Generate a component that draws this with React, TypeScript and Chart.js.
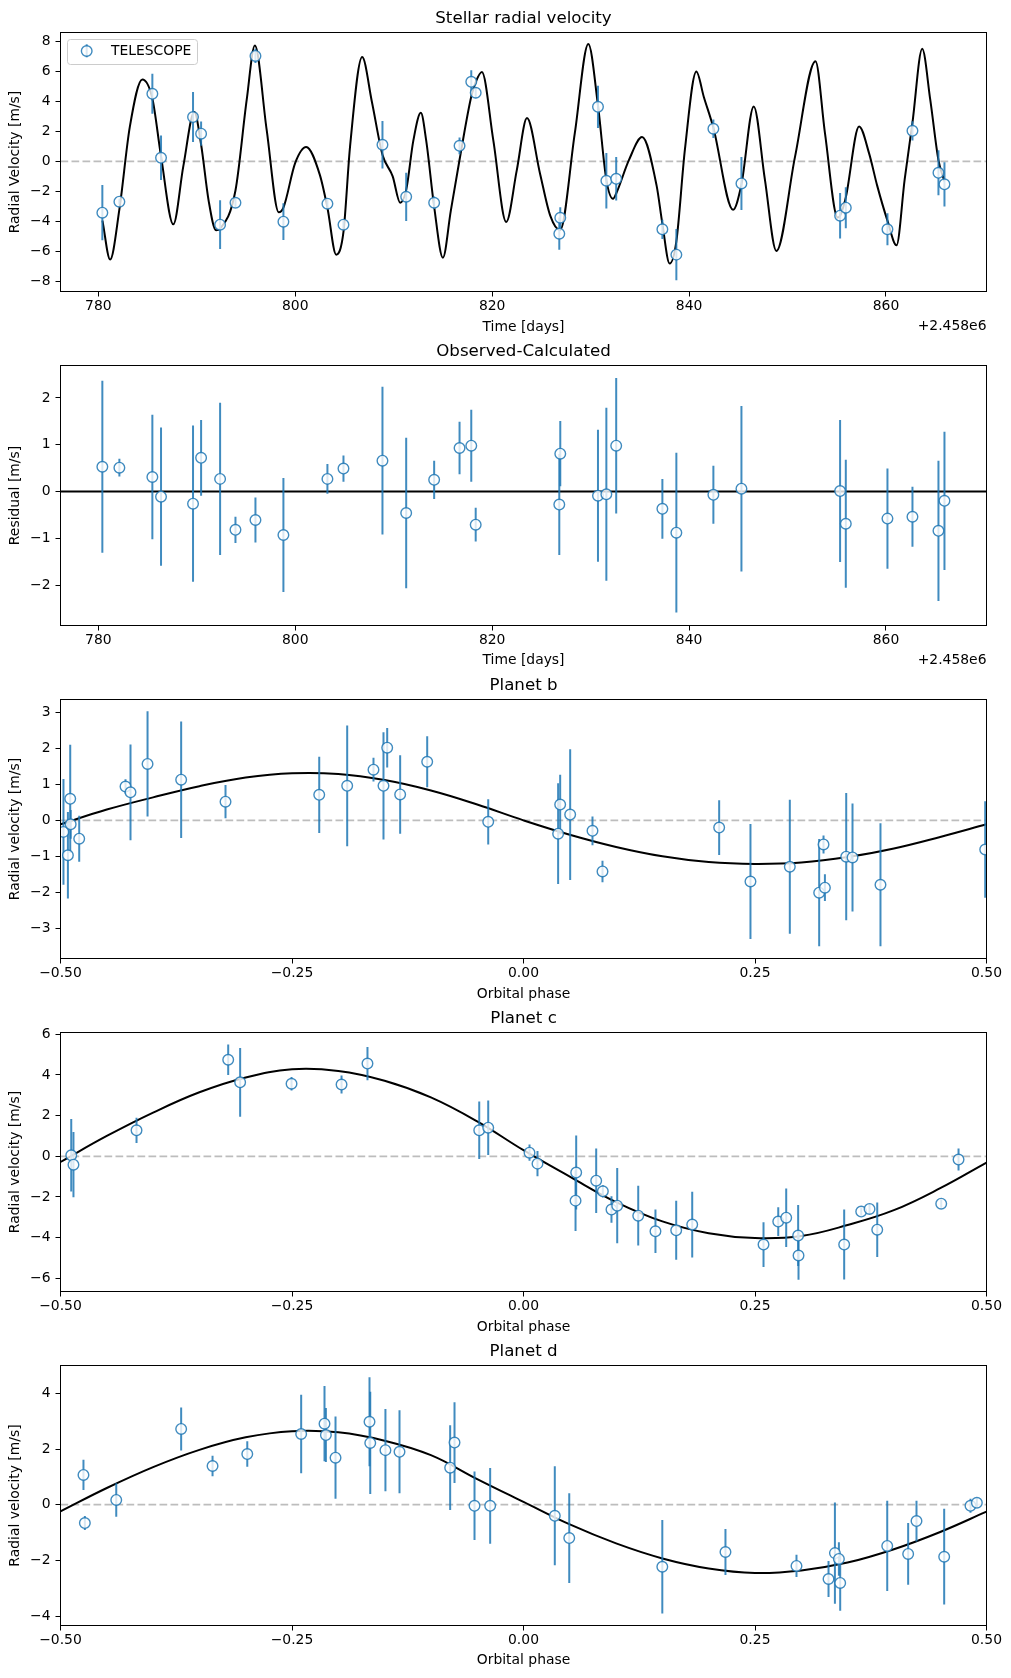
import React, { useEffect, useRef } from 'react';
import { Chart, registerables } from 'chart.js';

Chart.register(...registerables);

const FONT = "'DejaVu Sans', 'Liberation Sans', sans-serif";
Chart.defaults.font.family = FONT;
Chart.defaults.font.size = 13.9;
Chart.defaults.color = '#000000';

// ---------- data: stellar RV time series (days relative to 2458000) ----------
const TIME_OFFSET_LABEL = '+2.458e6';
const LEGEND_LABEL = 'TELESCOPE';
const TIME = [780.41, 782.14, 785.49, 786.37, 789.62, 790.44, 792.37, 793.93, 795.96, 798.80, 803.27, 804.90, 808.86, 811.27, 814.11, 816.69, 817.88, 818.33, 826.82, 826.92, 830.75, 831.60, 832.60, 837.29, 838.71, 842.47, 845.32, 855.34, 855.92, 860.15, 862.69, 865.33, 865.94];
const RV = [-3.42, -2.69, 4.51, 0.24, 2.96, 1.85, -4.22, -2.76, 7.04, -4.02, -2.82, -4.22, 1.11, -2.36, -2.76, 1.04, 5.31, 4.58, -4.82, -3.76, 3.64, -1.29, -1.16, -4.53, -6.22, 2.18, -1.47, -3.62, -3.09, -4.53, 2.04, -0.76, -1.53];
const RV_ERR = [1.84, 0.19, 1.33, 1.48, 1.67, 0.81, 1.63, 0.28, 0.48, 1.22, 0.32, 0.28, 1.58, 1.61, 0.41, 0.56, 0.77, 0.36, 1.08, 0.70, 1.41, 1.85, 1.45, 0.64, 1.71, 0.62, 1.77, 1.52, 1.37, 1.07, 0.64, 1.50, 1.48];
const RESIDUAL = [0.53, 0.51, 0.31, -0.11, -0.26, 0.72, 0.27, -0.82, -0.61, -0.93, 0.27, 0.49, 0.66, -0.46, 0.25, 0.93, 0.98, -0.71, -0.28, 0.81, -0.09, -0.06, 0.98, -0.37, -0.88, -0.07, 0.06, 0.01, -0.69, -0.58, -0.54, -0.84, -0.20];

// model curve
const MODEL_TIME = [780.42, 781.2, 782.14, 783.2, 784.47, 785.49, 786.37, 787.62, 788.64, 789.75, 790.44, 791.2, 791.96, 792.37, 793.93, 795.07, 795.9, 797.1, 798.33, 798.8, 800.0, 801.11, 802.5, 803.27, 804.16, 804.9, 805.57, 806.8, 807.78, 808.86, 809.9, 810.66, 811.27, 812.0, 812.76, 813.3, 814.11, 815.0, 815.8, 816.69, 817.88, 818.33, 818.96, 820.12, 821.43, 822.5, 823.54, 824.86, 825.9, 826.9, 828.4, 829.77, 830.75, 831.6, 832.28, 832.6, 833.9, 835.23, 836.7, 837.29, 838.03, 838.71, 839.58, 840.74, 841.5, 842.47, 844.47, 845.32, 846.57, 847.7, 848.87, 850.76, 852.84, 853.8, 855.1, 855.34, 855.92, 857.27, 858.3, 859.1, 860.15, 861.07, 861.9, 862.69, 863.68, 864.5, 865.33, 865.94];
const MODEL_RV = [-3.95, -6.55, -3.2, 2.3, 5.47, 4.2, 0.35, -4.2, -0.3, 3.3, 1.13, -2.6, -4.6, -4.49, -1.94, 4.1, 7.73, 2.1, -3.4, -3.09, -0.1, 0.96, -0.9, -3.09, -6.22, -4.71, 1.0, 6.96, 4.0, 0.45, -1.0, -2.76, -1.9, 1.4, 3.24, 1.4, -3.01, -6.42, -3.3, 0.11, 4.33, 5.29, 5.96, 1.4, -4.04, -0.6, 2.89, -0.8, -3.62, -4.58, 1.9, 7.84, 3.73, -1.23, -2.49, -2.14, 0.1, 1.62, -1.6, -4.16, -6.82, -5.34, 0.8, 6.0, 4.3, 2.25, -3.22, -1.53, 3.67, -1.2, -5.98, 0.3, 6.69, 1.9, -3.75, -3.63, -2.4, 2.33, 0.5, -1.6, -3.95, -5.6, -1.2, 2.58, 7.51, 4.1, 0.08, -1.33];

// ---------- phase-folded data ----------
const PHASE_B = [-0.4968, -0.4920, -0.4895, -0.4890, -0.4798, -0.4298, -0.4244, -0.4060, -0.3697, -0.3218, -0.2206, -0.1904, -0.1620, -0.1512, -0.1472, -0.1332, -0.1040, -0.0381, 0.0374, 0.0396, 0.0504, 0.0745, 0.0853, 0.2113, 0.2451, 0.2876, 0.3193, 0.3240, 0.3255, 0.3485, 0.3553, 0.3855, 0.4986];
const RV_B = [-0.32, -0.97, 0.60, -0.11, -0.51, 0.94, 0.78, 1.57, 1.13, 0.52, 0.71, 0.96, 1.41, 0.96, 2.02, 0.72, 1.63, -0.04, -0.37, 0.44, 0.16, -0.29, -1.42, -0.20, -1.70, -1.29, -2.01, -0.67, -1.87, -1.01, -1.03, -1.79, -0.81];
const ERR_B = [1.47, 1.20, 1.50, 0.40, 0.64, 0.20, 1.33, 1.46, 1.62, 0.46, 1.06, 1.68, 0.33, 1.49, 0.55, 1.09, 0.71, 0.63, 1.40, 0.83, 1.82, 0.40, 0.30, 0.76, 1.60, 1.86, 1.49, 0.25, 0.37, 1.77, 1.50, 1.71, 1.34];

const PHASE_C = [-0.4884, -0.4860, -0.4179, -0.3189, -0.3060, -0.2505, -0.1965, -0.1685, -0.0478, -0.0381, 0.0065, 0.0151, 0.0562, 0.0569, 0.0785, 0.0857, 0.0950, 0.1012, 0.1239, 0.1425, 0.1649, 0.1822, 0.2592, 0.2751, 0.2837, 0.2966, 0.2970, 0.3463, 0.3647, 0.3737, 0.3820, 0.4511, 0.4698];
const RV_C = [0.05, -0.41, 1.28, 4.75, 3.64, 3.57, 3.53, 4.56, 1.28, 1.41, 0.18, -0.36, -2.18, -0.80, -1.20, -1.72, -2.62, -2.43, -2.92, -3.69, -3.64, -3.36, -4.34, -3.21, -3.02, -3.90, -4.88, -4.34, -2.72, -2.59, -3.61, -2.33, -0.16];
const ERR_C = [1.78, 1.60, 0.62, 0.75, 1.69, 0.33, 0.44, 0.82, 1.41, 1.34, 0.40, 0.62, 1.49, 1.82, 1.59, 0.30, 0.65, 1.85, 1.47, 1.07, 1.45, 1.62, 1.10, 0.71, 1.44, 1.50, 1.19, 1.72, 0.20, 0.25, 1.34, 0.20, 0.54];

const PHASE_D = [-0.4752, -0.4737, -0.4398, -0.3697, -0.3358, -0.2983, -0.2401, -0.2149, -0.2134, -0.2030, -0.1663, -0.1655, -0.1491, -0.1339, -0.0792, -0.0745, -0.0529, -0.0360, 0.0338, 0.0494, 0.1499, 0.2181, 0.2948, 0.3294, 0.3363, 0.3406, 0.3420, 0.3928, 0.4154, 0.4244, 0.4543, 0.4827, 0.4896];
const RV_D = [1.07, -0.66, 0.17, 2.72, 1.39, 1.82, 2.54, 2.91, 2.50, 1.69, 2.98, 2.22, 1.96, 1.90, 1.33, 2.23, -0.04, -0.04, -0.40, -1.20, -2.23, -1.70, -2.20, -2.67, -1.74, -1.95, -2.81, -1.48, -1.77, -0.59, -1.87, -0.04, 0.07];
const ERR_D = [0.54, 0.25, 0.60, 0.77, 0.37, 0.46, 1.41, 1.35, 0.97, 1.48, 1.60, 1.84, 1.48, 1.49, 1.52, 1.45, 1.23, 1.36, 1.78, 1.61, 1.68, 0.83, 0.40, 0.65, 1.82, 0.60, 1.00, 1.62, 1.11, 0.73, 1.72, 0.25, 0.15];

// model curves in phase
const MODEL_PHASE = [-0.5, -0.45, -0.4, -0.35, -0.3, -0.25, -0.2, -0.15, -0.1, -0.05, 0, 0.05, 0.1, 0.15, 0.2, 0.25, 0.3, 0.35, 0.4, 0.45, 0.5];
const MODEL_B = [-0.11, 0.3, 0.64, 0.95, 1.19, 1.31, 1.29, 1.12, 0.83, 0.44, 0.0, -0.4, -0.74, -1.0, -1.16, -1.21, -1.17, -1.02, -0.78, -0.46, -0.11];
const MODEL_C = [-0.28, 1.0, 2.15, 3.15, 3.88, 4.28, 4.2, 3.72, 2.9, 1.72, 0.3, -1.0, -2.25, -3.2, -3.78, -4.02, -3.92, -3.38, -2.65, -1.57, -0.31];
const MODEL_D = [-0.24, 0.6, 1.35, 1.97, 2.42, 2.64, 2.6, 2.3, 1.78, 0.92, 0.1, -0.71, -1.39, -1.93, -2.29, -2.45, -2.36, -2.08, -1.6, -0.98, -0.25];

// ---------- ticks ----------
const TIME_TICKS = [780, 800, 820, 840, 860];
const PHASE_TICKS = [-0.5, -0.25, 0, 0.25, 0.5];
const RV_TICKS = [-8, -6, -4, -2, 0, 2, 4, 6, 8];
const RES_TICKS = [-2, -1, 0, 1, 2];
const B_TICKS = [-3, -2, -1, 0, 1, 2, 3];
const C_TICKS = [-6, -4, -2, 0, 2, 4, 6];
const D_TICKS = [-4, -2, 0, 2, 4];

// ---------- styles ----------
const C0 = 'rgba(31,119,180,0.85)';
const FACE = 'rgba(255,255,255,0.8)';
const CANVAS_W = 1011;
const CANVAS_H = 345;
const AREA_LEFT = 60.5;
const AREA_RIGHT = 986.5;

const minus = (s: string) => s.replace(/-/g, '\u2212');
const intFmt = (v: number) => minus(String(Math.round(v)));
const phaseFmt = (v: number) => minus(v.toFixed(2));

type Panel = {
  top: number;
  areaBottom: number;
  title: string;
  xLabel: string;
  yLabel: string;
  xMin: number; xMax: number; yMin: number; yMax: number;
  xTicks: number[]; yTicks: number[];
  xFmt: (v: number) => string;
  xs: number[]; ys: number[]; errs: number[];
  mx?: number[]; my?: number[];
  monotone?: boolean;
  zeroSolid: boolean;
  offsetText?: string;
  legend?: string;
};

const PANELS: Panel[] = [
  {
    top: 0, areaBottom: 291.5, title: 'Stellar radial velocity', xLabel: 'Time [days]', yLabel: 'Radial Velocity [m/s]',
    xMin: 776.16, xMax: 870.21, yMin: -8.68, yMax: 8.6, xTicks: TIME_TICKS, yTicks: RV_TICKS, xFmt: intFmt,
    xs: TIME, ys: RV, errs: RV_ERR, mx: MODEL_TIME, my: MODEL_RV, monotone: true, zeroSolid: false,
    offsetText: TIME_OFFSET_LABEL, legend: LEGEND_LABEL,
  },
  {
    top: 333, areaBottom: 292.5, title: 'Observed-Calculated', xLabel: 'Time [days]', yLabel: 'Residual [m/s]',
    xMin: 776.16, xMax: 870.21, yMin: -2.866, yMax: 2.695, xTicks: TIME_TICKS, yTicks: RES_TICKS, xFmt: intFmt,
    xs: TIME, ys: RESIDUAL, errs: RV_ERR, zeroSolid: true, offsetText: TIME_OFFSET_LABEL,
  },
  {
    top: 667, areaBottom: 291.5, title: 'Planet b', xLabel: 'Orbital phase', yLabel: 'Radial velocity [m/s]',
    xMin: -0.5, xMax: 0.5, yMin: -3.84, yMax: 3.36, xTicks: PHASE_TICKS, yTicks: B_TICKS, xFmt: phaseFmt,
    xs: PHASE_B, ys: RV_B, errs: ERR_B, mx: MODEL_PHASE, my: MODEL_B, zeroSolid: false,
  },
  {
    top: 1000, areaBottom: 291.5, title: 'Planet c', xLabel: 'Orbital phase', yLabel: 'Radial velocity [m/s]',
    xMin: -0.5, xMax: 0.5, yMin: -6.65, yMax: 6.09, xTicks: PHASE_TICKS, yTicks: C_TICKS, xFmt: phaseFmt,
    xs: PHASE_C, ys: RV_C, errs: ERR_C, mx: MODEL_PHASE, my: MODEL_C, zeroSolid: false,
  },
  {
    top: 1333, areaBottom: 292.5, title: 'Planet d', xLabel: 'Orbital phase', yLabel: 'Radial velocity [m/s]',
    xMin: -0.5, xMax: 0.5, yMin: -4.34, yMax: 5.0, xTicks: PHASE_TICKS, yTicks: D_TICKS, xFmt: phaseFmt,
    xs: PHASE_D, ys: RV_D, errs: ERR_D, mx: MODEL_PHASE, my: MODEL_D, zeroSolid: false,
  },
];

const errorBarPlugin = {
  id: 'errorBars',
  beforeDatasetDraw(chart: any, args: any) {
    const ds: any = chart.data.datasets[args.index];
    if (!ds.errorBars) return;
    const xs = chart.scales.x;
    const ys = chart.scales.y;
    const a = chart.chartArea;
    const ctx = chart.ctx;
    ctx.save();
    ctx.beginPath();
    ctx.rect(a.left, a.top, a.right - a.left, a.bottom - a.top);
    ctx.clip();
    ctx.strokeStyle = C0;
    ctx.lineWidth = 2;
    ds.data.forEach((p: any, i: number) => {
      const e = ds.errorBars[i];
      const x = xs.getPixelForValue(p.x);
      ctx.beginPath();
      ctx.moveTo(x, ys.getPixelForValue(p.y - e));
      ctx.lineTo(x, ys.getPixelForValue(p.y + e));
      ctx.stroke();
    });
    ctx.restore();
  },
};

function makeDecorPlugin(p: Panel) {
  return {
    id: 'decor',
    afterDatasetsDraw(chart: any) {
      const ctx = chart.ctx;
      const a = chart.chartArea;
      ctx.save();
      ctx.strokeStyle = '#000000';
      ctx.lineWidth = 1;
      ctx.strokeRect(a.left, a.top, a.right - a.left, a.bottom - a.top);
      if (p.offsetText) {
        ctx.fillStyle = '#000000';
        ctx.font = `13.9px ${FONT}`;
        ctx.textAlign = 'right';
        ctx.textBaseline = 'middle';
        ctx.fillText(p.offsetText, a.right, a.bottom + 34.5);
      }
      if (p.legend) {
        const lx = a.left + 7;
        const ly = a.top + 7;
        const w = 130;
        const h = 25;
        const r = 3;
        ctx.beginPath();
        ctx.moveTo(lx + r, ly);
        ctx.lineTo(lx + w - r, ly);
        ctx.arcTo(lx + w, ly, lx + w, ly + r, r);
        ctx.lineTo(lx + w, ly + h - r);
        ctx.arcTo(lx + w, ly + h, lx + w - r, ly + h, r);
        ctx.lineTo(lx + r, ly + h);
        ctx.arcTo(lx, ly + h, lx, ly + h - r, r);
        ctx.lineTo(lx, ly + r);
        ctx.arcTo(lx, ly, lx + r, ly, r);
        ctx.closePath();
        ctx.fillStyle = 'rgba(255,255,255,0.8)';
        ctx.fill();
        ctx.strokeStyle = '#cccccc';
        ctx.lineWidth = 1;
        ctx.stroke();
        const mx = lx + 19.2;
        const my = ly + 11.5;
        ctx.strokeStyle = C0;
        ctx.lineWidth = 2;
        ctx.beginPath();
        ctx.moveTo(mx, my - 6.7);
        ctx.lineTo(mx, my + 6.3);
        ctx.stroke();
        ctx.beginPath();
        ctx.arc(mx, my, 5.3, 0, Math.PI * 2);
        ctx.fillStyle = FACE;
        ctx.fill();
        ctx.lineWidth = 1.4;
        ctx.stroke();
        ctx.fillStyle = '#000000';
        ctx.font = `13.9px ${FONT}`;
        ctx.textAlign = 'left';
        ctx.textBaseline = 'middle';
        ctx.fillText(p.legend, lx + 43.5, my + 0.3);
      }
      ctx.restore();
    },
  };
}

function buildConfig(p: Panel) {
  const points = p.xs.map((x, i) => ({ x, y: p.ys[i] }));
  const datasets: any[] = [
    {
      type: 'line',
      label: 'zero',
      data: [{ x: p.xMin, y: 0 }, { x: p.xMax, y: 0 }],
      borderColor: p.zeroSolid ? '#000000' : '#bdbdbd',
      borderWidth: p.zeroSolid ? 2 : 1.8,
      borderDash: p.zeroSolid ? [] : [7.7, 3.3],
      pointRadius: 0,
      pointHoverRadius: 0,
      order: 4,
      clip: 0,
    },
  ];
  if (p.mx && p.my) {
    datasets.push({
      type: 'line',
      label: 'model',
      data: p.mx.map((x, i) => ({ x, y: (p.my as number[])[i] })),
      borderColor: '#000000',
      borderWidth: 2,
      cubicInterpolationMode: p.monotone ? 'monotone' : 'default',
      tension: 0.4,
      pointRadius: 0,
      pointHoverRadius: 0,
      order: 3,
      clip: 0,
    });
  }
  datasets.push({
    type: 'scatter',
    label: p.legend || 'data',
    data: points,
    errorBars: p.errs,
    pointRadius: 5.3,
    pointHoverRadius: 5.3,
    borderWidth: 1.4,
    borderColor: C0,
    backgroundColor: FACE,
    pointBorderColor: C0,
    pointBackgroundColor: FACE,
    showLine: false,
    order: 1,
    clip: 0,
  });

  const tickFont = { family: FONT, size: 13.9 };
  return {
    type: 'line',
    data: { datasets },
    options: {
      responsive: false,
      animation: false,
      devicePixelRatio: 1,
      events: [],
      layout: { padding: { left: 0, right: CANVAS_W - AREA_RIGHT, top: 0, bottom: 0 } },
      plugins: {
        legend: { display: false },
        tooltip: { enabled: false },
        title: {
          display: true,
          text: p.title,
          fullSize: false,
          align: 'center',
          color: '#000000',
          font: { family: FONT, size: 16.67, weight: 'normal' },
          padding: { top: 8.3, bottom: 4.2 },
        },
      },
      scales: {
        x: {
          type: 'linear',
          min: p.xMin,
          max: p.xMax,
          afterBuildTicks: (s: any) => { s.ticks = p.xTicks.map((v) => ({ value: v })); },
          afterFit: (s: any) => { s.height = CANVAS_H - p.areaBottom; },
          ticks: { callback: (v: any) => p.xFmt(Number(v)), font: tickFont, color: '#000000', padding: 2, maxRotation: 0, autoSkip: false },
          grid: { drawOnChartArea: false, drawTicks: true, tickLength: 5, color: '#000000', tickColor: '#000000', lineWidth: 1 },
          border: { display: false },
          title: { display: true, text: p.xLabel, color: '#000000', font: tickFont, padding: { top: 0, bottom: 9.5 } },
        },
        y: {
          type: 'linear',
          min: p.yMin,
          max: p.yMax,
          afterBuildTicks: (s: any) => { s.ticks = p.yTicks.map((v) => ({ value: v })); },
          afterFit: (s: any) => { s.width = AREA_LEFT; },
          ticks: { callback: (v: any) => intFmt(Number(v)), font: tickFont, color: '#000000', padding: 5, autoSkip: false },
          grid: { drawOnChartArea: false, drawTicks: true, tickLength: 5, color: '#000000', tickColor: '#000000', lineWidth: 1 },
          border: { display: false },
          title: { display: true, text: p.yLabel, color: '#000000', font: tickFont, padding: { top: 7.4, bottom: 0 } },
        },
      },
    },
    plugins: [errorBarPlugin, makeDecorPlugin(p)],
  };
}

export default function App() {
  const refs = useRef<(HTMLCanvasElement | null)[]>([]);
  useEffect(() => {
    const charts = PANELS.map((p, i) => new Chart(refs.current[i] as HTMLCanvasElement, buildConfig(p) as any));
    return () => charts.forEach((c) => c.destroy());
  }, []);
  return (
    <div style={{ position: 'absolute', left: 0, top: 0, width: CANVAS_W, height: 1678, background: '#ffffff', overflow: 'hidden' }}>
      {PANELS.map((p, i) => (
        <canvas
          key={i}
          ref={(el) => { refs.current[i] = el; }}
          width={CANVAS_W}
          height={CANVAS_H}
          style={{ position: 'absolute', left: 0, top: p.top, width: CANVAS_W, height: CANVAS_H }}
        />
      ))}
    </div>
  );
}
